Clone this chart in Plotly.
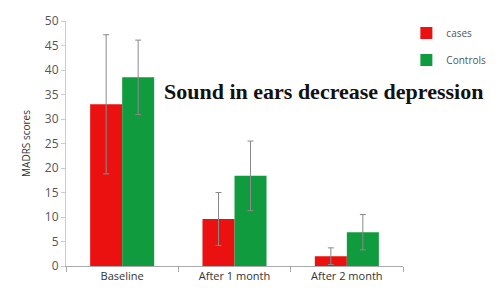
import plotly.graph_objects as go

categories = ["Baseline", "After 1 month", "After 2 month"]
cases = [33.0, 9.6, 2.0]
cases_err = [14.2, 5.4, 1.7]
controls = [38.5, 18.4, 6.9]
controls_err = [7.6, 7.1, 3.6]
y_ticks = [0, 5, 10, 15, 20, 25, 30, 35, 40, 45, 50]

fig = go.Figure()
fig.add_trace(go.Bar(
    name="cases", x=categories, y=cases, marker_color="#ec1111", marker_line_width=0,
    legendgroup="a",
    error_y=dict(type="data", array=cases_err, color="#8a8a8a", thickness=1, width=3),
))
fig.add_trace(go.Bar(
    name="Controls", x=categories, y=controls, marker_color="#119b3f", marker_line_width=0,
    legendgroup="b",
    error_y=dict(type="data", array=controls_err, color="#8a8a8a", thickness=1, width=3),
))

fig.update_layout(
    width=503, height=301,
    margin=dict(l=66, r=94, t=16, b=35),
    paper_bgcolor="white", plot_bgcolor="white",
    barmode="group", bargap=0.43, bargroupgap=0,
    font=dict(family="Open Sans", color="#555555", size=11),
    legend=dict(x=1.01, y=1.01, xanchor="left", yanchor="top",
                font=dict(size=10, color="#555555"), itemwidth=30,
                tracegroupgap=8, bgcolor="rgba(0,0,0,0)"),
    annotations=[dict(
        text="<b>Sound in ears decrease depression</b>", x=0.763, y=0.713,
        xref="paper", yref="paper", xanchor="center", yanchor="middle", showarrow=False,
        font=dict(family="Liberation Serif", size=22, color="#111111"),
    )],
)
fig.update_yaxes(
    range=[0, 50], tickvals=y_ticks, showgrid=False, zeroline=False,
    showline=True, linecolor="#cccccc", ticks="outside", ticklen=4, tickcolor="#cccccc",
    tickfont=dict(size=12, color="#555555"),
    title=dict(text="MADRS scores", font=dict(size=10, color="#333333"), standoff=12),
)
fig.update_xaxes(
    showgrid=False, showline=True, linecolor="#aaaaaa", ticks="outside",
    tickson="boundaries", ticklen=5, tickcolor="#aaaaaa",
    tickfont=dict(size=11, color="#333333"),
)
fig.write_html("out.html")
